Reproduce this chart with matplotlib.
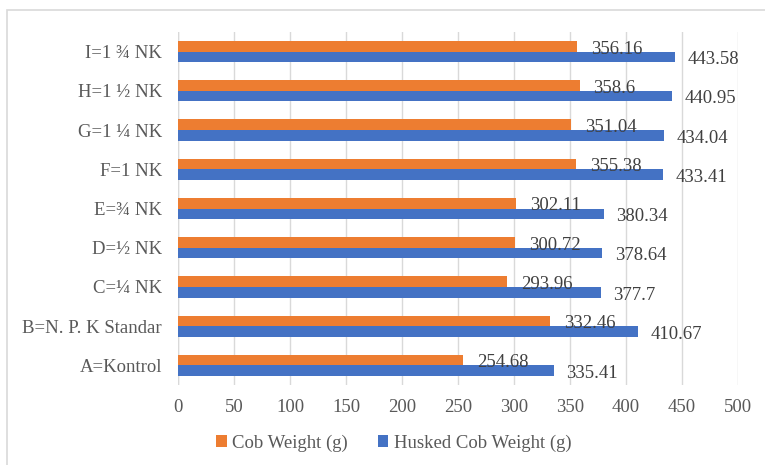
import matplotlib.pyplot as plt
import numpy as np
from matplotlib.patches import Rectangle

# treatments, bottom to top
labels = ["A=Kontrol", "B=N. P. K Standar", "C=\u00bc NK", "D=\u00bd NK", "E=\u00be NK",
          "F=1 NK", "G=1 \u00bc NK", "H=1 \u00bd NK", "I=1 \u00be NK"]
cob = [254.68, 332.46, 293.96, 300.72, 302.11, 355.38, 351.04, 358.6, 356.16]
husked = [335.41, 410.67, 377.7, 378.64, 380.34, 433.41, 434.04, 440.95, 443.58]

plt.rcParams['font.family'] = ['Liberation Serif', 'DejaVu Serif']
fs = 13.5

fig = plt.figure(figsize=(7.65, 4.65), dpi=100)
ax = fig.add_axes([178/765, 1-385/465, (738-178)/765, (385-32)/465])

y = np.arange(len(labels))
h = 0.27
b1 = ax.barh(y + h/2, cob, height=h, color='#ED7D31', label='Cob Weight (g)', zorder=3)
b2 = ax.barh(y - h/2, husked, height=h, color='#4472C4', label='Husked Cob Weight (g)', zorder=3)

for yi, v in zip(y, cob):
    ax.annotate(str(v), (v, yi + h/2), xytext=(10, -2), textcoords='offset points',
                ha='left', va='center', fontsize=fs, color='#404040')
for yi, v in zip(y, husked):
    ax.annotate(str(v), (v, yi - h/2), xytext=(9, -2), textcoords='offset points',
                ha='left', va='center', fontsize=fs, color='#404040')

ax.set_xlim(0, 500)
ax.set_ylim(-0.5, len(labels) - 0.5)
ax.set_xticks(np.arange(0, 501, 50))
ax.set_yticks(y)
ax.set_yticklabels(labels)
ax.tick_params(length=0, labelsize=fs, labelcolor='#595959')
ax.tick_params(axis='y', pad=11.5)
ax.tick_params(axis='x', pad=10)
ax.grid(axis='x', color='#d9d9d9', linewidth=1, zorder=0)
for s in ax.spines.values():
    s.set_visible(False)
ax.axvline(0, color='#d9d9d9', linewidth=1, zorder=1)

ax.legend(loc='center', bbox_to_anchor=(394/765, 1-443/465), bbox_transform=fig.transFigure,
          ncol=2, frameon=False, fontsize=fs, labelcolor='#595959',
          handlelength=0.55, handleheight=0.55, handletextpad=0.3, columnspacing=1.6)

# outer frame, only top and left show
fig.add_artist(Rectangle((7/765, -0.1), 1.2, 1.1 - 10/465, transform=fig.transFigure,
                         fill=False, edgecolor='#d9d9d9', linewidth=1.2))

fig.savefig("out.png", dpi=100)
